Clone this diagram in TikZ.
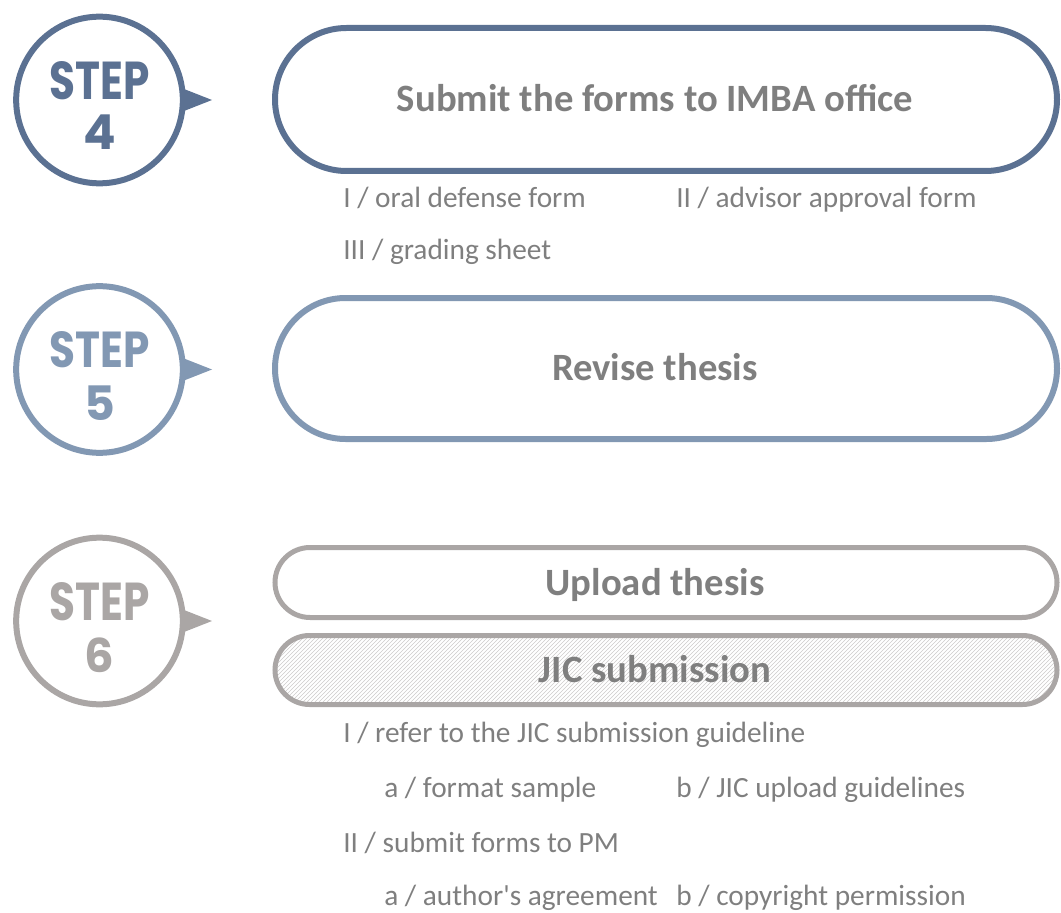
\documentclass[tikz,border=0pt]{standalone}
\usepackage{fontspec}
\setmainfont{Carlito}
\newfontfamily\stepfont{Poppins}
\usetikzlibrary{shapes.misc,patterns}
\definecolor{cfour}{RGB}{91,113,146}
\definecolor{cfive}{RGB}{130,152,179}
\definecolor{csix}{RGB}{170,166,165}
\definecolor{txt}{RGB}{127,127,127}
\definecolor{hatch}{RGB}{205,203,202}
\begin{document}
\begin{tikzpicture}[x=0.75pt,y=-0.75pt,
  stepcirc/.style={circle,draw,line width=4.5pt,minimum size=125pt,inner sep=0pt},
  pill/.style={rounded rectangle,draw,minimum width=586.5pt,inner sep=0pt},
  pilltext/.style={inner sep=0pt,font=\fontsize{29}{34}\selectfont\bfseries,text=txt,text height=18.5pt,text depth=0pt},
  steplbl/.style={anchor=base,inner sep=0pt,font=\stepfont\bfseries},
  item/.style={anchor=base west,inner sep=0pt,text=txt,font=\fontsize{22}{26}\selectfont}]
\useasboundingbox (0,0) rectangle (1061,913);

% ---- Step 4
\node[stepcirc,draw=cfour] (s4) at (99.5,100) {};
\fill[cfour] ([shift={(82,-12)}]s4.center) -- ([shift={(112.5,0)}]s4.center) -- ([shift={(82,12)}]s4.center) -- cycle;
\node[steplbl,text=cfour] (s4a) at (99.5,100) {\resizebox{75pt}{28.5pt}{STEP}};
\node[steplbl,text=cfour] (s4b) at (99.5,150) {\resizebox{!}{26pt}{4}};
\node[pill,draw=cfour,line width=4.5pt,minimum height=107.25pt] (b4) at (666,99.5) {};
\node[pilltext] (l4) at (655,99) {Submit the forms to IMBA office};
\node[item] (t4a) at (343,208) {I / oral defense form};
\node[item] (t4b) at (676,208) {II / advisor approval form};
\node[item] (t4c) at (343,260) {III / grading sheet};

% ---- Step 5
\node[stepcirc,draw=cfive] (s5) at (99.5,369.5) {};
\fill[cfive] ([shift={(82,-12)}]s5.center) -- ([shift={(112.5,0)}]s5.center) -- ([shift={(82,12)}]s5.center) -- cycle;
\node[steplbl,text=cfive] (s5a) at (99.5,368) {\resizebox{75pt}{27pt}{STEP}};
\node[steplbl,text=cfive] (s5b) at (99.5,420) {\resizebox{!}{26pt}{5}};
\node[pill,draw=cfive,line width=4.5pt,minimum height=105.75pt] (b5) at (666,368.5) {};
\node[pilltext] (l5) at (655,368.5) {Revise thesis};

% ---- Step 6
\node[stepcirc,draw=csix] (s6) at (99.5,621) {};
\fill[csix] ([shift={(82,-12)}]s6.center) -- ([shift={(112.5,0)}]s6.center) -- ([shift={(82,12)}]s6.center) -- cycle;
\node[steplbl,text=csix] (s6a) at (99.5,620) {\resizebox{75pt}{28.5pt}{STEP}};
\node[steplbl,text=csix] (s6b) at (99.5,672) {\resizebox{!}{26pt}{6}};
\node[pill,draw=csix,line width=3.75pt,minimum height=52.5pt] (b6a) at (666,582.5) {};
\node[pilltext] (l6a) at (655,583) {Upload thesis};
\node[pill,draw=csix,line width=3.75pt,minimum height=51.75pt,pattern=north east lines,pattern color=hatch] (b6b) at (666,670) {};
\node[pilltext] (l6b) at (655,670) {JIC submission};
\node[item] (t6a) at (343,742) {I / refer to the JIC submission guideline};
\node[item] (t6b) at (384,797) {a / format sample};
\node[item] (t6c) at (676,797) {b / JIC upload guidelines};
\node[item] (t6d) at (343,852) {II / submit forms to PM};
\node[item] (t6e) at (384,905) {a / author\textquotesingle s agreement};
\node[item] (t6f) at (676,905) {b / copyright permission};
\end{tikzpicture}
\end{document}
